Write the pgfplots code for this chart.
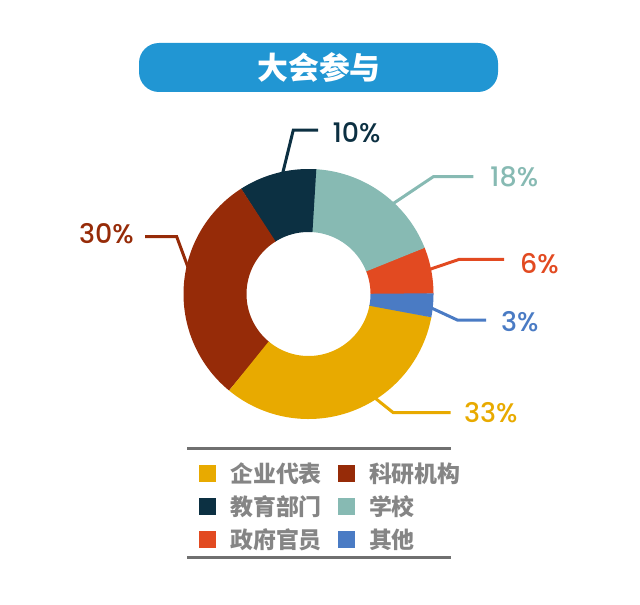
\documentclass[border=0pt]{standalone}
\usepackage{pgfplots}
\pgfplotsset{compat=1.18}
\usepackage{pgfplotstable}
\usepackage{fontspec}
\setmainfont{Poppins}
\newfontfamily\pct{Poppins Medium}
\newfontfamily\cjk{Noto Sans CJK SC}

\definecolor{cYellow}{HTML}{E8AA00}
\definecolor{cRed}{HTML}{962B08}
\definecolor{cNavy}{HTML}{0C3042}
\definecolor{cTeal}{HTML}{87BAB3}
\definecolor{cOrange}{HTML}{E24A21}
\definecolor{cBlue}{HTML}{4A7BC4}
\definecolor{cTitle}{HTML}{2196D3}
\definecolor{cGray}{HTML}{858585}
\definecolor{cRule}{HTML}{707070}

% shares, counter-clockwise from 3 o'clock
\pgfplotstableread{
value color
6  cOrange
18 cTeal
10 cNavy
30 cRed
33 cYellow
3  cBlue
}\shares

\begin{document}
\begin{tikzpicture}
\begin{axis}[
  width=640bp, height=604bp, scale only axis,
  xmin=0, xmax=640, ymin=0, ymax=604, y dir=reverse,
  enlargelimits=false, hide axis, clip=false,
  legend columns=2,
  legend image code/.code={\fill[#1, draw=none] (0bp,-8.5bp) rectangle (17bp,8.5bp); \path (31bp,0bp);},
  legend style={at={(axis cs:199,463)}, anchor=north west, draw=none, fill=none,
    inner sep=0pt, outer sep=0pt, row sep=12bp,
    font={\cjk\bfseries\fontsize{23}{26}\selectfont}, text=cGray,
    nodes={inner sep=0pt, text height=19bp, text depth=2bp, anchor=west},
    /tikz/every even column/.append style={column sep=16bp}},
]
% leader lines
\addplot[forget plot, cNavy, line width=3bp] coordinates {(281.5,178) (293.3,130) (318,130)};
\addplot[forget plot, cTeal, line width=3bp] coordinates {(388,207) (433.3,176.7) (473.3,176.7)};
\addplot[forget plot, cOrange, line width=3bp] coordinates {(424,271.3) (459.3,259.3) (504,259.3)};
\addplot[forget plot, cBlue, line width=3bp] coordinates {(425,305) (457.3,320) (486,320)};
\addplot[forget plot, cYellow, line width=3bp] coordinates {(370,394) (393.3,412.7) (450.7,412.7)};
\addplot[forget plot, cRed, line width=3bp] coordinates {(145,236.7) (176.7,236.7) (189,270)};

% ring segments
\def\acc{0}
\pgfplotsforeachungrouped \i in {0,...,5}{
  \pgfplotstablegetelem{\i}{value}\of\shares \let\v\pgfplotsretval
  \pgfplotstablegetelem{\i}{color}\of\shares \let\c\pgfplotsretval
  \pgfmathsetmacro\a{\acc*3.6}
  \pgfmathsetmacro\b{(\acc+\v)*3.6+0.3}
  \edef\doplot{\noexpand\addplot[forget plot, draw=\c, line width=63bp,
    domain=\a:\b, samples=80] ({308.5+93.5*cos(x)}, {294-93.5*sin(x)});}
  \doplot
  \pgfmathsetmacro\acc{\acc+\v}
}

% labels
\begin{scope}[every node/.style={inner sep=0pt, text depth=0pt, font=\pct\fontsize{27}{30}\selectfont}]
\node[cNavy, anchor=west] at (axis cs:332.3,132.5) {10\%};
\node[cTeal, anchor=west] at (axis cs:490,177) {18\%};
\node[cOrange, anchor=west] at (axis cs:520,263) {6\%};
\node[cBlue, anchor=west] at (axis cs:501,321) {3\%};
\node[cYellow, anchor=west] at (axis cs:464,412) {33\%};
\node[cRed, anchor=east] at (axis cs:134,233) {30\%};
\end{scope}

% title
\fill[cTitle, rounded corners=20bp] (axis cs:139,43) rectangle (axis cs:498,92);
\node[white, font={\cjk\bfseries\fontsize{31}{34}\selectfont}] at (axis cs:319,67.5) {大会参与};

% legend rules
\draw[cRule, line width=3bp] (axis cs:187,448.3) -- (axis cs:451,448.3);
\draw[cRule, line width=3bp] (axis cs:187,557.3) -- (axis cs:451,557.3);

\addlegendimage{fill=cYellow}\addlegendentry{企业代表}
\addlegendimage{fill=cRed}\addlegendentry{科研机构}
\addlegendimage{fill=cNavy}\addlegendentry{教育部门}
\addlegendimage{fill=cTeal}\addlegendentry{学校}
\addlegendimage{fill=cOrange}\addlegendentry{政府官员}
\addlegendimage{fill=cBlue}\addlegendentry{其他}
\end{axis}
\pgfresetboundingbox
\path[use as bounding box] (current axis.south west) rectangle (current axis.north east);
\end{tikzpicture}
\end{document}
